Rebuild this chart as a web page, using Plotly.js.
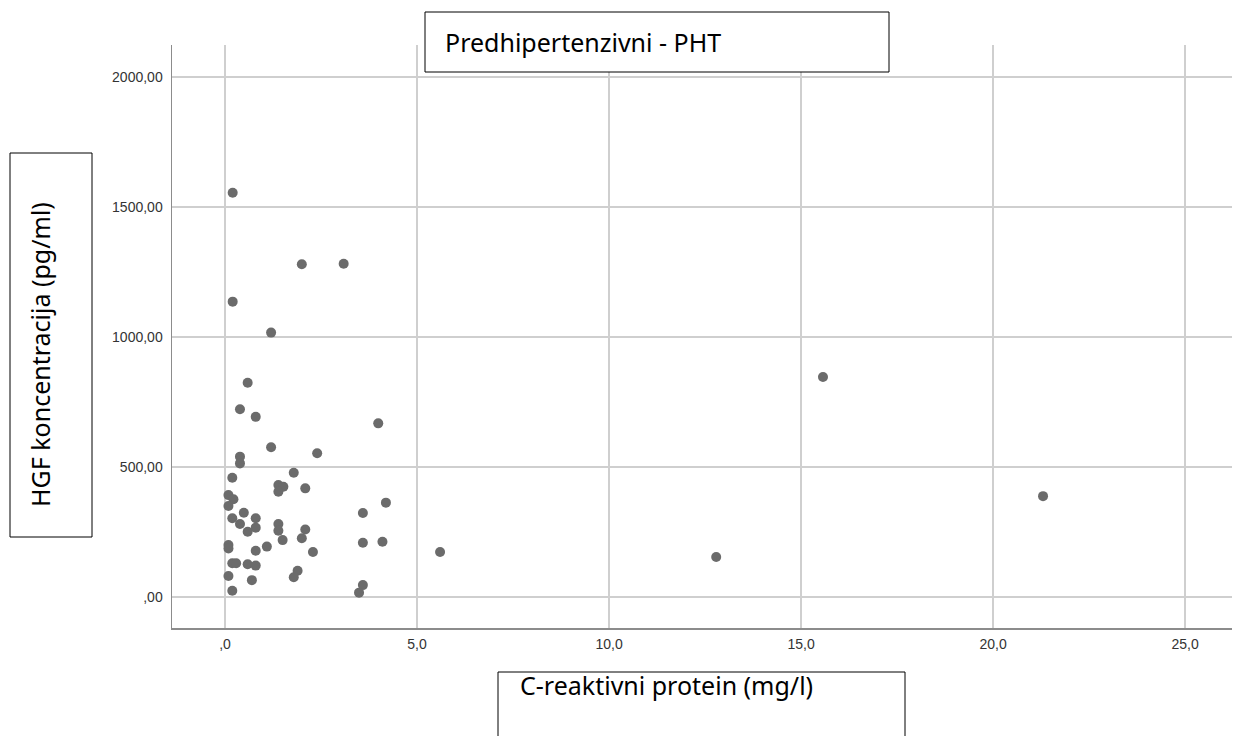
<!DOCTYPE html>
<html>
<head>
<meta charset="utf-8">
<script src="https://cdn.plot.ly/plotly-3.0.1.min.js"></script>
<style>html,body{margin:0;padding:0;background:#fff;}#chart{width:1233px;height:736px;}</style>
</head>
<body>
<div id="chart"></div>
<script>
// C-reaktivni protein (mg/l)
const crp = [0.2, 2.0, 3.09, 0.2, 1.2,
  0.59, 0.39, 0.8, 3.99, 1.2, 2.4, 0.39, 0.39, 1.79, 0.19,
  1.39, 1.52, 1.39, 2.09, 0.09, 0.22, 0.09, 4.19, 3.59, 0.49,
  0.19, 0.8, 0.39, 0.59, 0.8, 1.39, 1.39, 2.09, 1.5, 2.0,
  3.59, 4.1, 0.09, 0.09, 1.09, 0.8, 2.29, 0.19, 0.29, 0.59,
  0.8, 0.09, 0.7, 1.89, 1.79, 0.19, 3.59, 3.49,
  5.6, 12.79, 15.57, 21.3];
// HGF koncentracija (pg/ml)
const hgf = [1555, 1280, 1282, 1136, 1017,
  824, 722, 693, 668, 576, 553, 540, 514, 478, 459,
  431, 424, 405, 418, 392, 376, 350, 363, 323, 324,
  303, 303, 281, 251, 267, 281, 255, 260, 219, 226,
  209, 213, 200, 187, 194, 178, 173, 130, 130, 126,
  121, 81, 65, 101, 76, 24, 46, 17,
  173, 154, 846, 388];

const xTickVals = [0, 5, 10, 15, 20, 25];
const xTickText = [",0", "5,0", "10,0", "15,0", "20,0", "25,0"];
const yTickVals = [0, 500, 1000, 1500, 2000];
const yTickText = [",00", "500,00", "1000,00", "1500,00", "2000,00"];

const chartTitle = "Predhipertenzivni - PHT";
const xTitle = "C-reaktivni protein (mg/l)";
const yTitle = "HGF koncentracija (pg/ml)";

// pixel helpers (plot area: x 172..1232, y 45..628)
const L = 172, R = 1232, T = 45, B = 628;
const px = v => (v - L) / (R - L);
const py = v => (B - v) / (B - T);

const boxFont = {family: "Noto Sans, sans-serif", size: 25, color: "#000"};

const trace = {
  x: crp, y: hgf, type: "scatter", mode: "markers",
  marker: {size: 10, color: "#6b6b6b"},
  hoverinfo: "x+y"
};

const layout = {
  width: 1233, height: 736,
  margin: {l: L, r: 1233 - R, t: T, b: 736 - B, pad: 0},
  paper_bgcolor: "#fff", plot_bgcolor: "#fff",
  showlegend: false,
  xaxis: {
    range: [-1.38, 26.22], tickvals: xTickVals, ticktext: xTickText,
    showgrid: true, gridcolor: "#cfcfcf", gridwidth: 1.5, zeroline: false,
    showline: true, linecolor: "#8c8c8c", linewidth: 1.5,
    ticks: "outside", ticklen: 3, tickcolor: "rgba(0,0,0,0)",
    tickfont: {family: "Liberation Sans, Arial, sans-serif", size: 14, color: "#333"}
  },
  yaxis: {
    range: [-119, 2123], tickvals: yTickVals, ticktext: yTickText,
    showgrid: true, gridcolor: "#cfcfcf", gridwidth: 1.5, zeroline: false,
    showline: true, linecolor: "#8c8c8c", linewidth: 1.5,
    ticks: "outside", ticklen: 5, tickcolor: "rgba(0,0,0,0)",
    tickfont: {family: "Liberation Sans, Arial, sans-serif", size: 14, color: "#333"}
  },
  shapes: [
    {type: "rect", xref: "paper", yref: "paper", layer: "above",
     x0: px(425), x1: px(889), y0: py(72), y1: py(12),
     line: {color: "#000", width: 1}, fillcolor: "#fff"},
    {type: "rect", xref: "paper", yref: "paper", layer: "above",
     x0: px(498), x1: px(905), y0: py(740), y1: py(672),
     line: {color: "#000", width: 1}, fillcolor: "#fff"},
    {type: "rect", xref: "paper", yref: "paper", layer: "above",
     x0: px(10), x1: px(92), y0: py(537), y1: py(153),
     line: {color: "#000", width: 1}, fillcolor: "#fff"}
  ],
  annotations: [
    {text: chartTitle, xref: "paper", yref: "paper", x: px(443), y: py(42),
     xanchor: "left", yanchor: "middle", showarrow: false, font: boxFont},
    {text: xTitle, xref: "paper", yref: "paper", x: px(518), y: py(685),
     xanchor: "left", yanchor: "middle", showarrow: false, font: boxFont},
    {text: yTitle, xref: "paper", yref: "paper", x: px(40), y: py(355),
     xanchor: "center", yanchor: "middle", textangle: -90, showarrow: false, font: boxFont}
  ]
};

Plotly.newPlot("chart", [trace], layout, {displayModeBar: false, staticPlot: true});
</script>
</body>
</html>
